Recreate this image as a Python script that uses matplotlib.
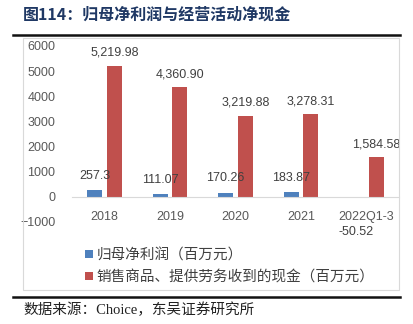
import matplotlib
matplotlib.use('Agg')
from matplotlib import pyplot as plt
from matplotlib.patches import Rectangle
from matplotlib.lines import Line2D
import numpy as np

plt.rcParams['font.family'] = ['Liberation Sans', 'Noto Sans CJK SC', 'DejaVu Sans']

categories = ['2018', '2019', '2020', '2021', '2022Q1-3']
net_profit = [257.3, 111.07, 170.26, 183.87, -50.52]
cash_sales = [5219.98, 4360.90, 3219.88, 3278.31, 1584.58]
profit_labels = ['257.3', '111.07', '170.26', '183.87', '-50.52']
cash_labels = ['5,219.98', '4,360.90', '3,219.88', '3,278.31', '1,584.58']
series_names = ['归母净利润（百万元）', '销售商品、提供劳务收到的现金（百万元）']

blue = '#4F81BD'
red = '#C0504D'
gray_text = '#595959'

fig = plt.figure(figsize=(4.13, 3.24), dpi=100)
W, H = 413, 324

# title and frame lines
fig.text(23 / W, 1 - 15 / H, '图114：归母净利润与经营活动净现金', fontsize=11.5,
         fontweight='bold', color='#1F3864', va='center', ha='left',
         family=['Noto Sans CJK SC'])
fig.add_artist(Line2D([13 / W, 400 / W], [1 - 35 / H, 1 - 35 / H],
                      color='#111111', linewidth=1.8))
fig.add_artist(Line2D([13 / W, 400 / W], [1 - 297 / H, 1 - 297 / H],
                      color='#111111', linewidth=1.8))
fig.add_artist(Rectangle((23 / W, 1 - 290 / H), 376 / W, 252 / H,
                         fill=False, edgecolor='#D9D9D9', linewidth=0.8))
fig.text(23 / W, 1 - 310 / H, '数据来源：Choice，东吴证券研究所', fontsize=10.5,
         color='#222222', va='center', ha='left',
         family=['Liberation Serif', 'Noto Sans CJK SC'])

ax = fig.add_axes([72 / W, 1 - 222 / H, 327 / W, 176 / H])
x = np.arange(len(categories))
bw = 0.23
b1 = ax.bar(x - 0.15, net_profit, bw, color=blue, label=series_names[0])
b2 = ax.bar(x + 0.15, cash_sales, bw, color=red, label=series_names[1])

ax.set_xlim(-0.5, len(categories) - 0.5)
ax.set_ylim(-1000, 6000)
ax.set_yticks(np.arange(-1000, 6001, 1000))
ax.set_xticks(x)
ax.set_xticklabels(categories)
ax.tick_params(axis='y', length=0, pad=12, labelsize=9, labelcolor=gray_text)
ax.tick_params(axis='x', length=0, pad=10, labelsize=9, labelcolor=gray_text)
for s in ['top', 'right', 'left']:
    ax.spines[s].set_visible(False)
ax.spines['bottom'].set_position(('data', 0))
ax.spines['bottom'].set_color('#D9D9D9')
ax.spines['bottom'].set_linewidth(0.8)
ax.patch.set_alpha(0)

for i in range(len(categories)):
    if net_profit[i] >= 0:
        ax.annotate(profit_labels[i], (x[i] - 0.15, net_profit[i]),
                    xytext=(0, 6), textcoords='offset points', ha='center',
                    va='bottom', fontsize=9, color='#404040')
    else:
        ax.annotate(profit_labels[i], (x[i] - 0.15, net_profit[i]),
                    xytext=(0, -20), textcoords='offset points', ha='center',
                    va='top', fontsize=9, color='#404040')
    ax.annotate(cash_labels[i], (x[i] + 0.15, cash_sales[i]),
                xytext=(0, 5), textcoords='offset points', ha='center',
                va='bottom', fontsize=9, color='#404040')

fig.legend(handles=[b1, b2], loc='upper left',
           bbox_to_anchor=(78 / W, 1 - 241 / H), frameon=False,
           fontsize=10.5, handlelength=0.5, handleheight=0.5,
           handletextpad=0.25, labelspacing=0.55, borderpad=0,
           labelcolor='#404040')

fig.savefig('out.png', dpi=100)
